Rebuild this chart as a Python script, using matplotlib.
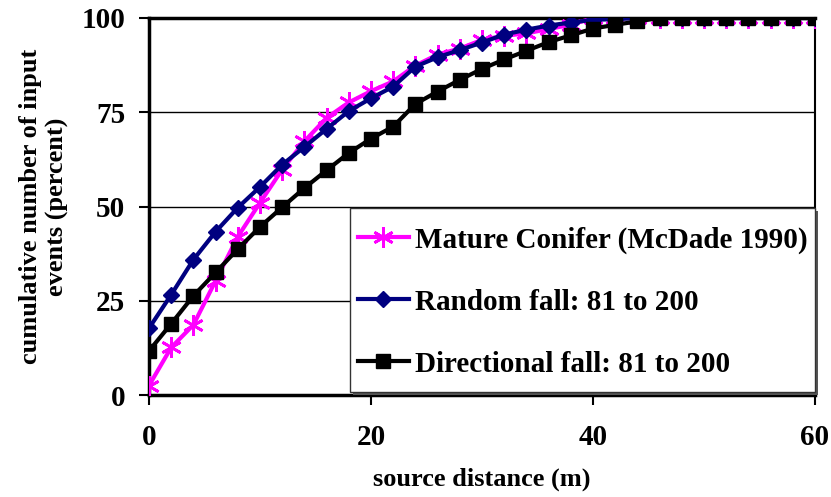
import matplotlib.pyplot as plt
from matplotlib.patches import Rectangle
import numpy as np

# source distance (m)
distance = list(range(0, 62, 2))

# cumulative input events (percent)
mature_conifer = [2.5, 12.6, 18.6, 30.3, 42, 51, 59.8, 67.3, 73.5, 77.6, 80.6, 83.2, 87.4,
                  90.3, 91.9, 94.2, 95.3, 95.9, 97.1, 98.2, 100, 100, 100, 100, 100, 100,
                  100, 100, 100, 100, 100]
random_fall = [17.7, 26.6, 35.9, 43.3, 49.7, 55.2, 61.1, 65.8, 70.6, 75.3, 78.7, 81.8, 87.1,
               89.6, 91.5, 93.5, 95.6, 96.9, 98.0, 98.8, 99.5, 99.7, 100, 100, 100, 100,
               100, 100, 100, 100, 100]
directional_fall = [11.7, 18.9, 26.3, 32.5, 38.7, 44.6, 49.8, 54.9, 59.6, 64.2, 68, 71.2, 77.2,
                    80.5, 83.6, 86.5, 89.0, 91.3, 93.6, 95.4, 97.2, 98.2, 99.1, 100, 100, 100,
                    100, 100, 100, 100, 100]

plt.rcParams['font.family'] = ['Liberation Serif', 'DejaVu Serif']
plt.rcParams['font.weight'] = 'bold'

fig = plt.figure(figsize=(8.31, 4.97), dpi=100)
ax = fig.add_axes([149 / 831, 1 - 395 / 497, 666 / 831, 377 / 497])

ax.plot(distance, mature_conifer, color='#ff00ff', lw=3, marker=(6, 2, 0), ms=15, mew=2,
        label='Mature Conifer (McDade 1990)', zorder=3)
ax.plot(distance, random_fall, color='#000080', lw=3, marker='D', ms=8,
        label='Random fall: 81 to 200', zorder=4)
ax.plot(distance, directional_fall, color='black', lw=3, marker='s', ms=10,
        label='Directional fall: 81 to 200', zorder=5)

ax.set_xlim(0, 60)
ax.set_ylim(0, 100)
ax.set_xticks([0, 20, 40, 60])
ax.set_yticks([0, 25, 50, 75, 100])
ax.tick_params(axis='both', labelsize=21, width=1.5, length=7, direction='out')
ax.tick_params(axis='x', pad=14)
ax.tick_params(axis='y', pad=10)
for lab in ax.get_xticklabels() + ax.get_yticklabels():
    lab.set_fontweight('bold')

for yv in [25, 50, 75]:
    ax.axhline(yv, color='black', lw=1, zorder=1)

for side in ['left', 'bottom', 'top']:
    ax.spines[side].set_linewidth(2.5)
ax.spines['right'].set_linewidth(1.5)

ax.set_xlabel('source distance (m)', fontsize=19, fontweight='bold', labelpad=12)
ax.set_ylabel('cumulative number of input\nevents (percent)', fontsize=19, fontweight='bold',
              labelpad=9, linespacing=1.2)

# legend box (drawn by hand, Excel style with a small shadow)
x0, x1 = (350 - 149) / 666, 1.0
y0, y1 = 3 / 377, (395 - 208) / 377
shadow = Rectangle((x0 + 3 / 666, y0 - 3 / 377), x1 - x0, y1 - y0, transform=ax.transAxes,
                   facecolor='#555555', edgecolor='none', zorder=9, clip_on=False)
box = Rectangle((x0, y0), x1 - x0, y1 - y0, transform=ax.transAxes,
                facecolor='white', edgecolor='#333333', lw=1, zorder=9.5, clip_on=False)
ax.add_patch(shadow)
ax.add_patch(box)

leg = ax.legend(loc='center', bbox_to_anchor=((x0 + x1) / 2, (395 - 302) / 377), fontsize=21,
                frameon=False, handlelength=1.75, handletextpad=0.2,
                labelspacing=1.2, borderpad=0.0, borderaxespad=0.0)
leg.set_zorder(10)
for t in leg.get_texts():
    t.set_fontweight('bold')

fig.savefig('out.png', dpi=100)
